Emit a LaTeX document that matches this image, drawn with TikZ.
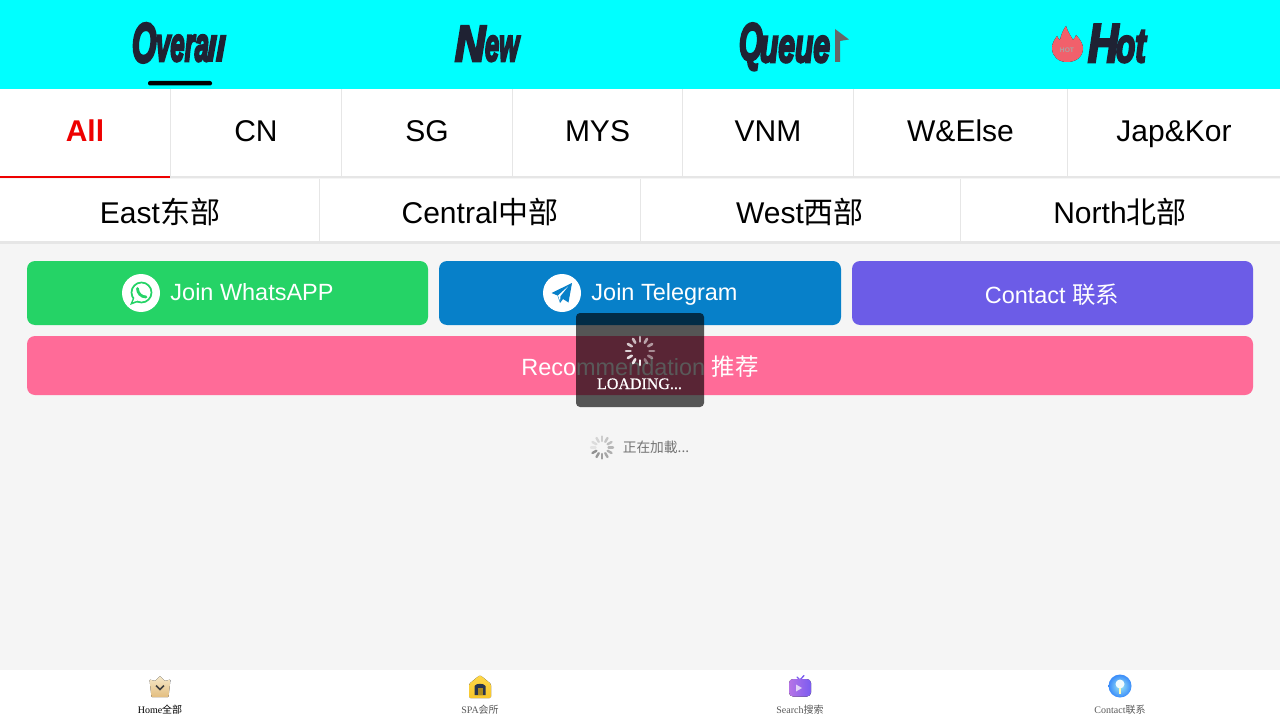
\documentclass[tikz,border=0pt]{standalone}
\usepackage{fontspec}
\usepackage{graphicx}
\usetikzlibrary{calc}
\setmainfont{Liberation Sans}
\newfontfamily\cjk{Noto Sans CJK SC}
\newfontfamily\serifx{Liberation Serif}
\newfontfamily\serifb[FakeBold=0.6]{Liberation Serif}
\newfontfamily\hdrf[BoldItalicFeatures={FakeBold=5.5}]{Liberation Sans}
\newcommand{\hs}[3]{\scalebox{#1}[#2]{#3}}
\definecolor{pagebg}{HTML}{F5F5F5}
\definecolor{rulec}{HTML}{E6E6E6}
\definecolor{hdrtxt}{HTML}{1F2233}
\definecolor{headbg}{HTML}{00FFFF}
\definecolor{wa}{HTML}{25D366}
\definecolor{tg}{HTML}{0780C9}
\definecolor{ct}{HTML}{6C5CE7}
\definecolor{pk}{HTML}{FF6B98}
\definecolor{redtab}{HTML}{EE0000}
\definecolor{crownA}{HTML}{F5E8CA}
\definecolor{crownB}{HTML}{E3BE80}
\definecolor{houseA}{HTML}{FFD84A}
\definecolor{houseB}{HTML}{F7C62A}
\definecolor{doorc}{HTML}{28344E}
\definecolor{tvA}{HTML}{B673E6}
\definecolor{tvB}{HTML}{7A5CF0}
\definecolor{bulbA}{HTML}{9BE6F5}
\definecolor{bulbB}{HTML}{3A8CFA}
\definecolor{flameA}{HTML}{F2606A}
\definecolor{flameB}{HTML}{F0606C}
\tikzset{
  hdr/.style={anchor=base west,inner sep=0pt,outer sep=0pt,text=hdrtxt,font=\fontsize{22.5}{24}\hdrf\bfseries\itshape},
  tabtxt/.style={anchor=base,inner sep=0pt,font=\fontsize{22.5}{24}\selectfont,text=black},
  btntxt/.style={anchor=base,inner sep=0pt,font=\fontsize{17.6}{20}\selectfont,text=white},
  navtxt/.style={anchor=base,inner sep=0pt,font=\fontsize{7.5}{8}\serifx,text=black!65},
  divider/.style={draw=rulec,line width=.75pt},
  btn/.style={rounded corners=6pt}
}
\newcommand{\spinner}[8]{% x y rin rout width color startangle dirstep
  \foreach \i in {0,...,11}{
    \pgfmathsetmacro{\ang}{#7+#8*\i}
    \pgfmathsetmacro{\op}{(1-\spinfade*\i)*\spinscale}
    \draw[#6,line width=#5,line cap=round,opacity=\op]
      ($(#1,#2)+(\ang:#3)$) -- ($(#1,#2)+(\ang:#4)$);
  }}
\begin{document}
\begin{tikzpicture}[x=.75pt,y=-.75pt]
\useasboundingbox (0,0) rectangle (1280,720);
\fill[pagebg] (0,0) rectangle (1280,720);
% header
\fill[headbg] (0,0) rectangle (1280,89);
\node[hdr] (overallO) at (132,62) {\hs{1.05}{1.85}{O}};
\node[hdr] (overallA) at (156,61) {\hs{.86}{1.6}{vera}};
\node[hdr] (overallB) at (207,61) {\hs{1.08}{1.16}{ll}};
\fill[black,rounded corners=1.5pt] (148,81) rectangle (212,85.5);
\node[hdr] (newN) at (455,61) {\hs{1.4}{1.68}{N}};
\node[hdr] (newB) at (485,61) {\hs{.85}{1.55}{ew}};
\node[hdr] (queueQ) at (739,60) {\hs{1.02}{1.75}{Q}};
\node[hdr] (queueB) at (760,62) {\hs{1.0}{1.6}{ueue}};
\fill[black!60] (835,29) -- (849,39.5) -- (840,41) -- (840,62) -- (835,62) -- cycle;
% flame
\fill[top color=flameA,bottom color=flameB] (1066,26) .. controls (1068,33) and (1071,36) .. (1073,40) .. controls (1075,38) and (1076,36) .. (1076,35) .. controls (1081,40) and (1083,45) .. (1083,48) .. controls (1083,57) and (1076,62) .. (1067,62) .. controls (1058,62) and (1052,56) .. (1052,48) .. controls (1052,43) and (1055,39) .. (1057,36) .. controls (1058,38) and (1059,40) .. (1060,40) .. controls (1061,35) and (1063,30) .. (1066,26) -- cycle;
\node[anchor=center,inner sep=0pt,font=\fontsize{5}{6}\bfseries\selectfont,text=black!35] (hotmark) at (1067,50) {HOT};
\node[hdr] (hotH) at (1088,62) {\hs{1.4}{1.81}{H}};
\node[hdr] (hotB) at (1116,62) {\hs{1.05}{1.6}{ot}};
% tab row 1
\fill[white] (0,89) rectangle (1280,177);
\foreach \x in {170.5,341.5,512.5,682.5,853.5,1067.5}{\draw[divider] (\x,89) -- (\x,177);}
\draw[divider,line width=1.5pt] (0,177.5) -- (1280,177.5);
\fill[redtab] (0,176) rectangle (170,178);
\node[tabtxt,text=redtab,font=\fontsize{22.5}{24}\bfseries\selectfont] (tAll) at (85,142) {All};
\node[tabtxt] (tCN) at (256,142) {CN};
\node[tabtxt] (tSG) at (427,142) {SG};
\node[tabtxt] (tMYS) at (597.5,142) {MYS};
\node[tabtxt] (tVNM) at (768,142) {VNM};
\node[tabtxt] (tWE) at (960.5,142) {W\&Else};
\node[tabtxt] (tJK) at (1174,142) {Jap\&Kor};
% tab row 2
\fill[white] (0,179) rectangle (1280,242);
\foreach \x in {319.5,640.5,960.5}{\draw[divider] (\x,179) -- (\x,242);}
\draw[divider,line width=1.5pt] (0,242.5) -- (1280,242.5);
\node[tabtxt] (rEast) at (160,223.5) {East{\cjk 东部}};
\node[tabtxt] (rCentral) at (480,223.5) {Central{\cjk 中部}};
\node[tabtxt] (rWest) at (800,223.5) {West{\cjk 西部}};
\node[tabtxt] (rNorth) at (1120,223.5) {North{\cjk 北部}};
% buttons
\fill[wa,btn] (27,261) rectangle (428,325);
\fill[tg,btn] (439,261) rectangle (841,325);
\fill[ct,btn] (852,261) rectangle (1253,325);
\fill[pk,btn] (27,336) rectangle (1253,395);
% whatsapp icon
\fill[white] (141,293) circle (19);
\draw[wa,line width=1.3pt] (141.5,292.5) circle (10);
\fill[wa] (133,298) -- (130,305) -- (138,302) -- cycle;
\fill[white] (134.5,298) -- (133,302) -- (137.5,300.5) -- cycle;
\draw[wa,line width=2.1pt,line cap=round] (137.5,288.5) .. controls (137.5,293) and (141,297) .. (146,297);
\node[btntxt] (bWA) at (252,300) {Join WhatsAPP};
% telegram icon
\fill[white] (562,293) circle (19);
\fill[tg] (572,283) -- (551.5,293) -- (557.5,295.5) -- (560,303) -- (563,299) -- (568.5,302.5) -- cycle;
\fill[white] (568,286.5) -- (558,295.5) -- (560,301) -- (560.5,296) -- cycle;
\node[btntxt] (bTG) at (664.5,300) {Join Telegram};
\node[btntxt] (bCT) at (1052,303) {Contact {\cjk 联系}};
\node[btntxt] (bRC) at (640,375) {Recommendation {\cjk 推荐}};
% loading overlay
\fill[black,fill opacity=.65,rounded corners=3pt] (576,313) rectangle (704,407);
\def\spinscale{.95}\def\spinfade{.055}
\spinner{640}{351}{9.5}{14}{2pt}{white}{90}{30}
\node[anchor=base,inner sep=0pt,text=white,font=\fontsize{12}{14}\serifb] (loadtxt) at (639.5,389) {LOADING...};
% inline loading
\def\spinscale{.55}\def\spinfade{.075}
\spinner{602}{447.5}{6.5}{11}{1.8pt}{black!75}{150}{-30}
\node[anchor=base west,inner sep=0pt,text=black!55,font=\fontsize{10.3}{12}\cjk] (inlineload) at (622.5,452.5) {正在加載...};
% bottom nav
\fill[white] (0,670) rectangle (1280,720);
% crown
\fill[top color=crownA,bottom color=crownB,rounded corners=.5pt] (160,676) -- (165,681) -- (170.5,679.5) -- (168.5,697) -- (151.5,697) -- (149.5,679.5) -- (155,681) -- cycle;
\draw[black!75,line width=1.1pt] (156,685.5) -- (160,689.5) -- (164,685.5);
\node[navtxt,text=black] (nHome) at (160,713) {Home{\cjk 全部}};
% house
\fill[top color=houseA,bottom color=houseB,rounded corners=1pt] (480,675) -- (491,684) -- (491,698) -- (469,698) -- (469,684) -- cycle;
\fill[doorc] (474.5,695) -- (474.5,686) .. controls (476,683) and (484,683) .. (485.5,686) -- (485.5,695) -- cycle;
\fill[houseB!70!black] (477.5,695) rectangle (482.5,688);
\node[navtxt] (nSPA) at (480,713) {SPA{\cjk 会所}};
% tv
\draw[tvB,line width=1pt,line cap=round] (797,677) -- (800,680) -- (804,675.5);
\fill[left color=tvA,right color=tvB,rounded corners=3pt] (789,679) rectangle (811,696.5);
\fill[white,opacity=.7] (796,684.5) -- (802,688) -- (796,691.5) -- cycle;
\node[navtxt] (nSearch) at (800,713) {Search{\cjk 搜索}};
% contact
\shade[inner color=bulbA,outer color=bulbB] (1120,686) circle (11.5);
\fill[white!85!bulbA] (1120,684) circle (4.5);
\draw[white!70!yellow,line width=1.4pt] (1120,688) -- (1120,694);
\node[navtxt] (nContact) at (1120,713) {Contact{\cjk 联系}};
\end{tikzpicture}
\end{document}
